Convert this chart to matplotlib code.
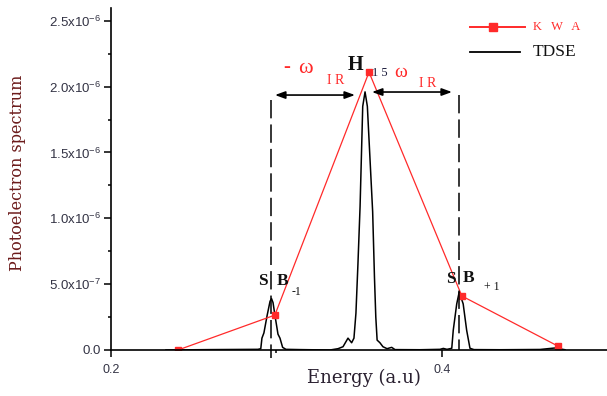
import numpy as np
import matplotlib
matplotlib.use('Agg')
import matplotlib.pyplot as plt
from matplotlib.ticker import MultipleLocator, FuncFormatter

plt.rcParams['mathtext.fontset'] = 'custom'
plt.rcParams['mathtext.rm'] = 'Liberation Sans'
plt.rcParams['mathtext.default'] = 'regular'

# KWA model points (energy in a.u., spectrum in units of 1e-6)
kwa_energy = [0.2405, 0.2990, 0.3559, 0.4120, 0.4700]
kwa_signal = [0.000, 0.265, 2.110, 0.410, 0.030]

# TDSE spectrum (units of 1e-6)
tdse_energy = [0.2332, 0.2600, 0.2888, 0.2905, 0.2912, 0.2924, 0.2943, 0.2961,
               0.2970, 0.2979, 0.2991, 0.3009, 0.3021, 0.3037, 0.3057, 0.3142,
               0.3323, 0.3372, 0.3402, 0.3432, 0.3454, 0.3468, 0.3480, 0.3492,
               0.3505, 0.3521, 0.3535, 0.3549, 0.3565, 0.3581, 0.3592, 0.3600,
               0.3608, 0.3625, 0.3643, 0.3668, 0.3696, 0.3716, 0.3867, 0.3988,
               0.4008, 0.4030, 0.4059, 0.4068, 0.4089, 0.4104, 0.4128, 0.4149,
               0.4169, 0.4193, 0.4350, 0.4592, 0.4680, 0.4743]
tdse_signal = [0.000, 0.003, 0.005, 0.010, 0.090, 0.130, 0.260, 0.370,
               0.390, 0.360, 0.260, 0.120, 0.090, 0.020, 0.005, 0.003,
               0.000, 0.010, 0.025, 0.090, 0.055, 0.090, 0.280, 0.650,
               1.090, 1.850, 1.960, 1.850, 1.450, 1.050, 0.550, 0.250,
               0.075, 0.055, 0.025, 0.010, 0.020, 0.003, 0.002, 0.005,
               0.012, 0.005, 0.013, 0.150, 0.350, 0.440, 0.350, 0.150,
               0.013, 0.003, 0.002, 0.004, 0.015, 0.002]

yticks = [0.0, 0.5, 1.0, 1.5, 2.0, 2.5]
ytick_labels = ['0.0', '5.0x10$^{-7}$', '1.0x10$^{-6}$', '1.5x10$^{-6}$',
                '2.0x10$^{-6}$', '2.5x10$^{-6}$']

scale = 1e-6
red = '#ff2a2a'

fig = plt.figure(figsize=(6.07, 3.96), dpi=100)
ax = fig.add_axes([111/607, 1-350/396, 496/607, 342/396])

ax.plot(tdse_energy, np.array(tdse_signal)*scale, color='black', lw=1.1)
ax.plot(kwa_energy, np.array(kwa_signal)*scale, color=red, lw=0.9,
        marker='s', ms=4.5, mfc=red, mec=red)

ax.set_xlim(0.2, 0.4997)
ax.set_ylim(0, 2.597e-6)

for s in ['top', 'right']:
    ax.spines[s].set_visible(False)
for s in ['left', 'bottom']:
    ax.spines[s].set_linewidth(1.2)

ax.set_yticks(np.array(yticks)*scale)
ax.set_yticklabels(ytick_labels)
ax.yaxis.set_minor_locator(MultipleLocator(0.25e-6))
ax.xaxis.set_major_locator(MultipleLocator(0.2))
ax.xaxis.set_minor_locator(MultipleLocator(0.1))
ax.xaxis.set_major_formatter(FuncFormatter(lambda v, p: '%.1f' % v))
ax.tick_params(which='major', direction='out', length=5, width=1.1,
               labelcolor='#333344', pad=2)
ax.tick_params(which='minor', direction='out', length=2.5, width=1.1)
ax.tick_params(axis='y', which='major', labelsize=9.5)
ax.tick_params(axis='x', which='major', length=5, pad=5, labelsize=9)
for lab in ax.get_xticklabels() + ax.get_yticklabels():
    lab.set_fontfamily('Liberation Sans')

ax.set_xlabel('Energy (a.u)', family='DejaVu Serif', fontsize=13,
              color='#2a2030')
ax.set_ylabel('Photoelectron spectrum', family='DejaVu Serif', fontsize=11.5,
              color='#6b1a1a')
ax.xaxis.set_label_coords(0.51, -0.055)
ax.yaxis.set_label_coords(-0.171, 0.518)

# dashed guide lines at the sidebands
ax.plot([0.2967, 0.2967], [1.90e-6, -0.06e-6], color='black', lw=1.1,
        ls=(0, (12, 4)), clip_on=False)
ax.plot([0.4103, 0.4103], [1.94e-6, 0.0], color='black', lw=1.1,
        ls=(0, (12, 4)), clip_on=False)

# omega_IR double arrows
arr = dict(arrowstyle='<|-|>,head_length=0.6,head_width=0.22', color='black',
           lw=1.2, shrinkA=0, shrinkB=0)
ax.annotate('', xy=(0.2991, 1.936e-6), xytext=(0.3474, 1.936e-6), arrowprops=arr)
ax.annotate('', xy=(0.3577, 1.959e-6), xytext=(0.4060, 1.959e-6), arrowprops=arr)

serif = 'Liberation Serif'
ax.text(0.3060, 2.150e-6, '-', color=red, family=serif, fontsize=15,
        fontweight='bold', ha='center', va='center')
ax.text(0.3175, 2.141e-6, 'ω', color=red, family=serif, fontsize=16,
        ha='center', va='center')
ax.text(0.3359, 2.043e-6, 'I R', color=red, family=serif, fontsize=10,
        ha='center', va='center')
ax.text(0.3480, 2.164e-6, 'H', color='#111111', family=serif, fontsize=14.5,
        fontweight='bold', ha='center', va='center')
ax.text(0.3625, 2.103e-6, '1 5', color='#1a1a3a', family=serif, fontsize=9,
        ha='center', va='center')
ax.text(0.3752, 2.111e-6, 'ω', color=red, family=serif, fontsize=14,
        ha='center', va='center')
ax.text(0.3915, 2.027e-6, 'I R', color=red, family=serif, fontsize=10,
        ha='center', va='center')

for x, y, t, fs, bold in [(0.2918, 0.524, 'S', 12.5, True),
                          (0.3039, 0.524, 'B', 12.5, True),
                          (0.3118, 0.440, '-1', 8.5, False),
                          (0.4054, 0.539, 'S', 12.5, True),
                          (0.4163, 0.547, 'B', 12.5, True),
                          (0.4302, 0.478, '+ 1', 8.5, False)]:
    ax.text(x, y*scale, t, color='#111111', family=serif, fontsize=fs,
            fontweight='bold' if bold else 'normal', ha='center', va='center')

# legend drawn by hand in axes fraction
def ax_xy(px, py):
    return (px-111)/496, (350-py)/342

x0, y0 = ax_xy(470, 27)
x1, _ = ax_xy(525, 27)
xm, _ = ax_xy(493, 27)
ax.plot([x0, x1], [y0, y0], color=red, lw=1.4, transform=ax.transAxes, clip_on=False)
ax.plot([xm], [y0], color=red, marker='s', ms=6, transform=ax.transAxes, clip_on=False)
xt, _ = ax_xy(533, 27)
ax.text(xt, y0, 'K   W   A', color=red, family=serif, fontsize=9,
        transform=ax.transAxes, va='center', ha='left')
x0, y1 = ax_xy(470, 52)
x1, _ = ax_xy(520, 52)
ax.plot([x0, x1], [y1, y1], color='black', lw=1.3, transform=ax.transAxes, clip_on=False)
ax.text(xt, y1, 'TDSE', color='#111111', family=serif, fontsize=12.5,
        transform=ax.transAxes, va='center', ha='left')

fig.savefig('out.png', dpi=100)
